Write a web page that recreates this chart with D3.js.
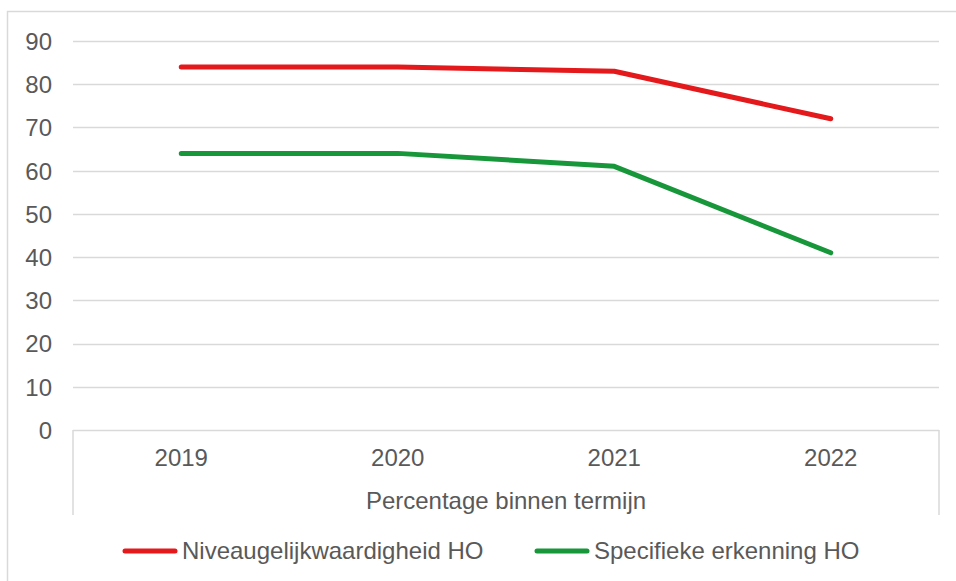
<!DOCTYPE html>
<html>
<head>
<meta charset="utf-8">
<script src="https://cdn.jsdelivr.net/npm/d3@7"></script>
<style>
  html, body { margin: 0; padding: 0; background: #fff; }
  svg { display: block; }
  text { font-family: "Liberation Sans", Arial, sans-serif; fill: #595959; }
</style>
</head>
<body>
<svg id="chart" width="956" height="581"></svg>
<script>
const categories = ["2019", "2020", "2021", "2022"];
const seriesNames = ["Niveaugelijkwaardigheid HO", "Specifieke erkenning HO"];
const niveauValues = [84, 84, 83, 72];
const specifiekValues = [64, 64, 61, 41];
const yTicks = [0, 10, 20, 30, 40, 50, 60, 70, 80, 90];
const axisTitle = "Percentage binnen termijn";
const colors = ["#E3191C", "#17963A"];

const series = [
  { name: seriesNames[0], values: niveauValues, color: colors[0] },
  { name: seriesNames[1], values: specifiekValues, color: colors[1] }
];

const svg = d3.select("#chart");
const plotLeft = 73, plotRight = 939, plotTop = 41, plotBottom = 430;

// outer chart border
svg.append("rect")
  .attr("x", 7.5).attr("y", 11.5)
  .attr("width", 1200).attr("height", 1200)
  .attr("fill", "none").attr("stroke", "#D9D9D9").attr("stroke-width", 1.5);

const y = d3.scaleLinear().domain([0, 90]).range([plotBottom, plotTop]);
const xBand = d3.scaleBand().domain(categories).range([plotLeft, plotRight]);
const x = d3.scalePoint().domain(categories).range([plotLeft, plotRight]).padding(0.5);

// gridlines
svg.append("g").selectAll("line").data(yTicks).join("line")
  .attr("x1", plotLeft).attr("x2", plotRight)
  .attr("y1", d => Math.round(y(d)) + 0.5).attr("y2", d => Math.round(y(d)) + 0.5)
  .attr("stroke", "#D9D9D9").attr("stroke-width", 1.5);

// y-axis labels
const yAxis = d3.axisLeft(y).tickValues(yTicks).tickSize(0).tickPadding(0);
const gy = svg.append("g").attr("transform", `translate(52,0)`).call(yAxis);
gy.select(".domain").remove();
gy.selectAll("text").attr("font-size", 24).attr("fill", "#595959")
  .attr("font-family", "Liberation Sans, Arial, sans-serif")
  .attr("dy", "0.35em");

// category axis box edges
svg.append("g").selectAll("line").data([plotLeft, plotRight]).join("line")
  .attr("x1", d => d).attr("x2", d => d)
  .attr("y1", plotBottom).attr("y2", 515)
  .attr("stroke", "#D9D9D9").attr("stroke-width", 1.5);

// category labels
const xAxis = d3.axisBottom(xBand).tickSize(0).tickPadding(0);
const gx = svg.append("g").attr("transform", `translate(0,${plotBottom})`).call(xAxis);
gx.select(".domain").remove();
gx.selectAll("text").attr("font-size", 24).attr("fill", "#595959")
  .attr("font-family", "Liberation Sans, Arial, sans-serif")
  .attr("y", 36).attr("dy", 0);

// axis title
svg.append("text")
  .attr("x", (plotLeft + plotRight) / 2).attr("y", 509)
  .attr("text-anchor", "middle").attr("font-size", 24)
  .text(axisTitle);

// lines
const line = d3.line().x((d, i) => x(categories[i])).y(d => y(d));
svg.append("g").selectAll("path").data(series).join("path")
  .attr("d", d => line(d.values))
  .attr("fill", "none")
  .attr("stroke", d => d.color)
  .attr("stroke-width", 5)
  .attr("stroke-linecap", "round")
  .attr("stroke-linejoin", "round");

// legend
const legendX = [123, 535];
const lg = svg.append("g").selectAll("g").data(series).join("g")
  .attr("transform", (d, i) => `translate(${legendX[i]},551)`);
lg.append("line").attr("x1", 2).attr("x2", 52).attr("y1", 0).attr("y2", 0)
  .attr("stroke", d => d.color).attr("stroke-width", 5).attr("stroke-linecap", "round");
lg.append("text").attr("x", 59).attr("y", 8).attr("font-size", 24)
  .text(d => d.name);
</script>
</body>
</html>
